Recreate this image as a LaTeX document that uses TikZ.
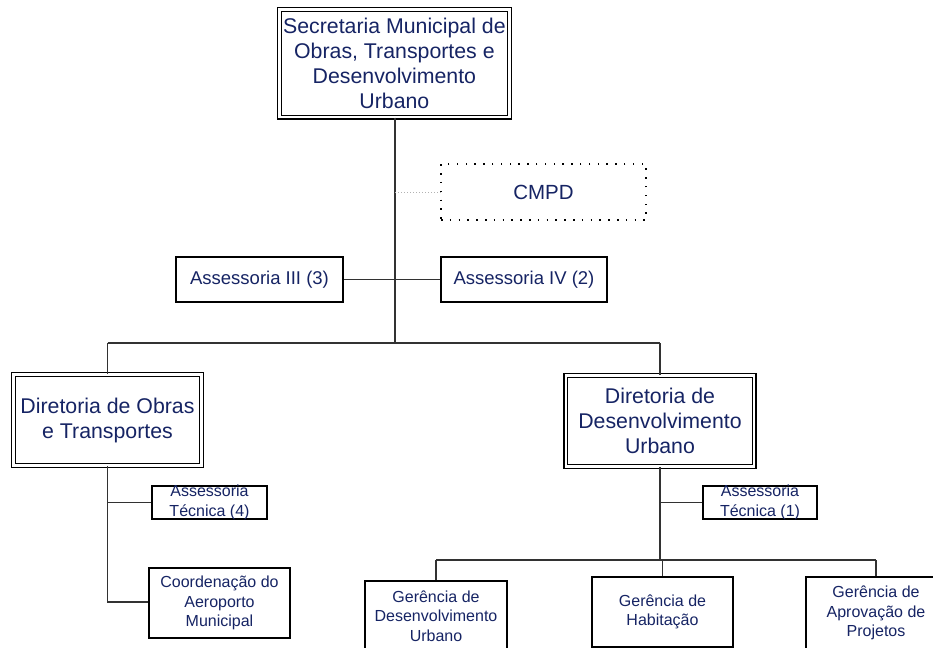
\documentclass[tikz,border=0pt]{standalone}
\usepackage{fontspec}
\setmainfont{Liberation Sans}
\definecolor{navy}{RGB}{22,36,100}
\definecolor{conn}{RGB}{50,50,50}
\tikzset{
  base/.style={inner sep=0pt, align=center, text=navy},
  dbox/.style={base, draw=black, line width=1.3pt, double=white, double distance=2.4pt, font=\fontsize{21.3}{25}\selectfont},
  sbox/.style={base, draw=black, line width=1.6pt},
  mid/.style={font=\fontsize{18.5}{22}\selectfont},
  small/.style={font=\fontsize{16}{19.5}\selectfont},
  txt/.style={base},
  conline/.style={draw=conn, line width=1.1pt},
  dotline/.style={draw=gray!60, line width=0.8pt, dash pattern=on 1pt off 2pt},
}
\begin{document}
\begin{tikzpicture}[x=1pt, y=-1pt]
\useasboundingbox (0,0) rectangle (933,647);
\clip (0,0) rectangle (933,647);
\fill[white] (0,0) rectangle (933,647);

% nodes
\node[dbox, minimum width=229.8pt, minimum height=107.5pt] (sec) at (394.4,63.3)
  {Secretaria Municipal de\\Obras, Transportes e\\Desenvolvimento\\Urbano};
\node[base, draw=black, line width=1.5pt, dash pattern=on 1.5pt off 7.3pt,
  minimum width=205pt, minimum height=56pt, font=\fontsize{20.5}{24}\selectfont] (cmpd) at (543.5,192) {CMPD};
\node[sbox, mid, minimum width=167pt, minimum height=45pt] (a3) at (259.5,279.5) {Assessoria III (3)};
\node[sbox, mid, minimum width=166pt, minimum height=45pt] (a4) at (524,279.5) {Assessoria IV (2)};

\node[dbox, minimum width=188pt, minimum height=91pt] (dot) at (107.5,420)
  {Diretoria de Obras\\e Transportes};
\node[dbox, minimum width=188.5pt, minimum height=91pt] (ddu) at (660,421)
  {Diretoria de\\Desenvolvimento\\Urbano};

\node[sbox, minimum width=115pt, minimum height=33pt] (at4) at (209.5,502.5) {};
\node[txt, small] (at4t) at (at4.center) {Assessoria\\Técnica (4)};
\node[sbox, minimum width=114pt, minimum height=33pt] (at1) at (760,502.5) {};
\node[txt, small] (at1t) at (at1.center) {Assessoria\\Técnica (1)};

\node[sbox, small, minimum width=141pt, minimum height=70pt] (coord) at (219.5,603)
  {Coordenação do\\Aeroporto\\Municipal};
\node[sbox, small, minimum width=142pt, minimum height=70pt] (gdu) at (436,616)
  {Gerência de\\Desenvolvimento\\Urbano};
\node[sbox, small, minimum width=141pt, minimum height=70pt] (hab) at (662.5,612)
  {Gerência de\\Habitação};
\node[sbox, small, minimum width=140pt, minimum height=72pt] (apr) at (876,613)
  {Gerência de\\Aprovação de\\Projetos};

% junction coordinates
\coordinate (j1) at (395,343);
\coordinate (jl) at (107.5,343);
\coordinate (jr) at (660,343);
\coordinate (jc) at (395,192);
\coordinate (ja) at (395,279.5);
\coordinate (jd1) at (107.5,502.5);
\coordinate (jd2) at (107.5,602);
\coordinate (ju1) at (660,502.5);
\coordinate (ju2) at (660,560);
\coordinate (gl) at (436,560);
\coordinate (gm) at (662.5,560);
\coordinate (gr) at (876,560);

% connectors
\draw[conline] (sec.south -| j1) -- (j1);
\draw[conline] (jl) -- (jr);
\draw[conline] (jl) -- (dot.north);
\draw[conline] (jr) -- (ddu.north);
\draw[dotline] (jc) -- (cmpd.west);
\draw[conline] (a3.east) -- (ja) -- (a4.west);

\draw[conline] (dot.south) -- (jd2) -- (coord.west |- jd2);
\draw[conline] (jd1) -- (at4.west);

\draw[conline] (ddu.south) -- (ju2);
\draw[conline] (ju1) -- (at1.west);
\draw[conline] (gl) -- (gr);
\draw[conline] (gl) -- (gdu.north);
\draw[conline] (gm) -- (hab.north);
\draw[conline] (gr) -- (apr.north);
\end{tikzpicture}
\end{document}
